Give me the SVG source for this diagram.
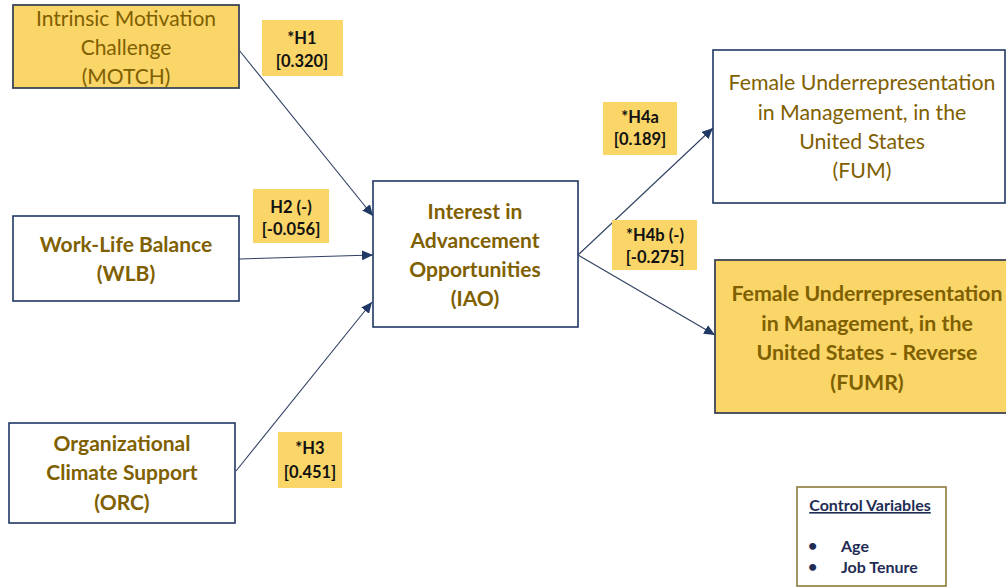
<svg xmlns="http://www.w3.org/2000/svg" width="1006" height="587" viewBox="0 0 1006 587">
<style>
.box{fill:#fff;stroke:#203864;stroke-width:1.6}
.ybox{fill:#FAD567;stroke:#3A4556;stroke-width:1.8}
.lab{fill:#FAD567}
.t{font-family:Lato,"Liberation Sans",sans-serif;fill:#7F6000;text-anchor:middle}
.b{font-weight:bold}
.r{font-weight:normal}
.lt{font-family:Lato,"Liberation Sans",sans-serif;font-weight:bold;font-size:16.5px;fill:#111;text-anchor:middle}
.edge{stroke:#2F3F62;stroke-width:1.1;fill:none;marker-end:url(#ah)}
.cv{font-family:Lato,"Liberation Sans",sans-serif;font-weight:bold;font-size:16px;fill:#1F2D55}
</style>
<defs>
<marker id="ah" markerUnits="userSpaceOnUse" markerWidth="12" markerHeight="10" refX="11" refY="5" orient="auto">
<path d="M0,0 L11,5 L0,10 Z" fill="#1F3864"/>
</marker>
</defs>
<rect width="1006" height="587" fill="#fff"/>
<g id="connectors">
<line class="edge" x1="239" y1="50" x2="373" y2="216"/>
<line class="edge" x1="239" y1="259" x2="373" y2="255"/>
<line class="edge" x1="236" y1="471" x2="372" y2="302"/>
<line class="edge" x1="578" y1="255" x2="713" y2="128"/>
<line class="edge" x1="578" y1="255" x2="715" y2="335"/>
</g>
<g id="MOTCH">
<rect class="ybox" x="13" y="5" width="226" height="83"/>
<text class="t r" font-size="21" x="126" y="26">Intrinsic Motivation</text>
<text class="t r" font-size="21" x="126" y="55">Challenge</text>
<text class="t r" font-size="21" x="126" y="84">(MOTCH)</text>
</g>
<g id="WLB">
<rect class="box" x="13" y="216" width="226" height="85"/>
<text class="t b" font-size="21" x="126" y="252">Work-Life Balance</text>
<text class="t b" font-size="21" x="126" y="281">(WLB)</text>
</g>
<g id="ORC">
<rect class="box" x="9" y="423" width="226" height="100"/>
<text class="t b" font-size="21" x="122" y="451">Organizational</text>
<text class="t b" font-size="21" x="122" y="480">Climate Support</text>
<text class="t b" font-size="21" x="122" y="510">(ORC)</text>
</g>
<g id="IAO">
<rect class="box" x="373" y="181" width="205" height="146"/>
<text class="t b" font-size="21" x="475" y="219">Interest in</text>
<text class="t b" font-size="21" x="475" y="248">Advancement</text>
<text class="t b" font-size="21" x="475" y="277">Opportunities</text>
<text class="t b" font-size="21" x="475" y="306">(IAO)</text>
</g>
<g id="FUM">
<rect class="box" x="713" y="50" width="292" height="153"/>
<text class="t r" font-size="21.3" x="862" y="90">Female Underrepresentation</text>
<text class="t r" font-size="21.3" x="862" y="120">in Management, in the</text>
<text class="t r" font-size="21.3" x="862" y="149">United States</text>
<text class="t r" font-size="21.3" x="862" y="178">(FUM)</text>
</g>
<g id="FUMR">
<rect class="ybox" x="715" y="260" width="292" height="153"/>
<text class="t b" font-size="21.3" x="867" y="301">Female Underrepresentation</text>
<text class="t b" font-size="21.3" x="867" y="331">in Management, in the</text>
<text class="t b" font-size="21.3" x="867" y="360">United States - Reverse</text>
<text class="t b" font-size="21.3" x="867" y="390">(FUMR)</text>
</g>
<g id="H1">
<rect class="lab" x="262" y="20" width="81" height="56"/>
<text class="lt" x="302" y="44">*H1</text>
<text class="lt" x="302" y="67">[0.320]</text>
</g>
<g id="H2">
<rect class="lab" x="253" y="189" width="76" height="54"/>
<text class="lt" x="291" y="213">H2 (-)</text>
<text class="lt" x="291" y="235">[-0.056]</text>
</g>
<g id="H3">
<rect class="lab" x="278" y="432" width="64" height="56"/>
<text class="lt" x="310" y="454">*H3</text>
<text class="lt" x="310" y="478">[0.451]</text>
</g>
<g id="H4a">
<rect class="lab" x="603" y="102" width="74" height="53"/>
<text class="lt" x="640" y="123">*H4a</text>
<text class="lt" x="640" y="145">[0.189]</text>
</g>
<g id="H4b">
<rect class="lab" x="612" y="220" width="85" height="50"/>
<text class="lt" x="655" y="241">*H4b (-)</text>
<text class="lt" x="655" y="263">[-0.275]</text>
</g>
<g id="controls">
<rect x="797" y="487" width="149" height="99" fill="#fff" stroke="#8C7A3A" stroke-width="1.6"/>
<text class="cv" x="870" y="511" text-anchor="middle" text-decoration="underline">Control Variables</text>
<text class="cv" x="808" y="551" font-size="11">•</text>
<text class="cv" x="841" y="552">Age</text>
<text class="cv" x="808" y="572" font-size="11">•</text>
<text class="cv" x="841" y="573">Job Tenure</text>
</g>
</svg>
